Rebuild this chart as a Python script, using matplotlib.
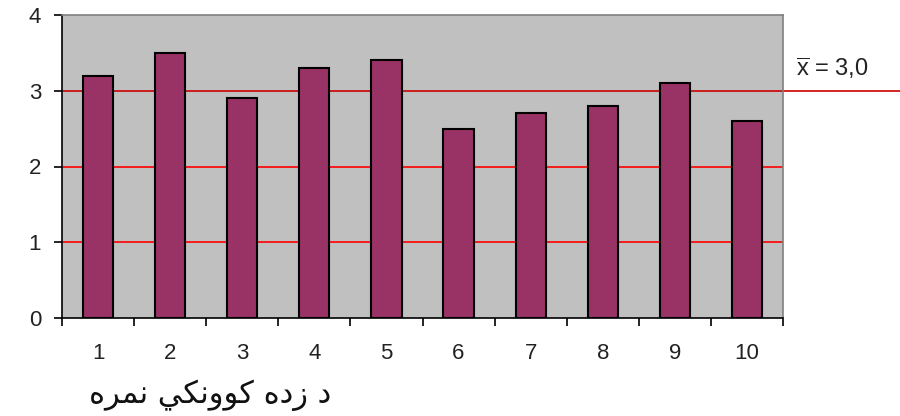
import matplotlib.pyplot as plt
from matplotlib.transforms import blended_transform_factory

# data
students = [1, 2, 3, 4, 5, 6, 7, 8, 9, 10]
scores = [3.2, 3.5, 2.9, 3.3, 3.4, 2.5, 2.7, 2.8, 3.1, 2.6]
mean_score = 3.0
mean_label = r'$\overline{\mathrm{x}}$ = 3,0'
# "د زده کوونکي نمره" in presentation forms, visual order
xlabel_text = '\uFEE9\uFEAE\uFEE4\uFEE7 \uFEF2\uFEDC\uFEE7\uFEED\uFEEE\uFEDB \uFEE9\uFEA9\uFEAF \uFEA9'

plt.rcParams['font.family'] = ['Liberation Sans', 'DejaVu Sans']
plt.rcParams['mathtext.fontset'] = 'custom'
plt.rcParams['mathtext.rm'] = 'Liberation Sans'

fig = plt.figure(figsize=(9, 4.16), dpi=100)
ax = fig.add_axes([62 / 900, 1 - 318 / 416, (783 - 62) / 900, (318 - 15) / 416])
ax.set_facecolor('#C0C0C0')

# red gridlines
for v in [1, 2]:
    ax.axhline(v, color='#FF0000', lw=1.2, zorder=1)

# mean line, extends past the plot area
trans = blended_transform_factory(fig.transFigure, ax.transData)
ax.plot([62 / 900, 1.0], [mean_score, mean_score], transform=trans,
        color='#CC0000', lw=1.2, clip_on=False, zorder=1)
fig.text(796 / 900, 1 - 68 / 416, mean_label, fontsize=17, va='center', ha='left', color='#222222')

ax.bar(students, scores, width=0.42, color='#993366', edgecolor='black', linewidth=1.5, zorder=3)

ax.set_xlim(0.5, 10.5)
ax.set_ylim(0, 4)
ax.set_yticks([0, 1, 2, 3, 4])
ax.set_xticks(students)
ax.set_xticks([i + 0.5 for i in range(0, 11)], minor=True)
ax.tick_params(axis='x', which='major', length=0, labelsize=16, pad=18, labelcolor='#222222')
ax.tick_params(axis='x', which='minor', length=6, width=1.2, direction='out')
ax.tick_params(axis='y', length=6, width=1.2, labelsize=16, pad=9, labelcolor='#222222')

for s in ['left', 'bottom']:
    ax.spines[s].set_color('black')
    ax.spines[s].set_linewidth(1.2)
for s in ['top', 'right']:
    ax.spines[s].set_color('#808080')
    ax.spines[s].set_linewidth(1.2)

fig.text(210 / 900, 1 - 395 / 416, xlabel_text, fontsize=22, ha='center', va='center',
         family=['DejaVu Sans'], color='#111111')

fig.savefig('out.png', dpi=100)
